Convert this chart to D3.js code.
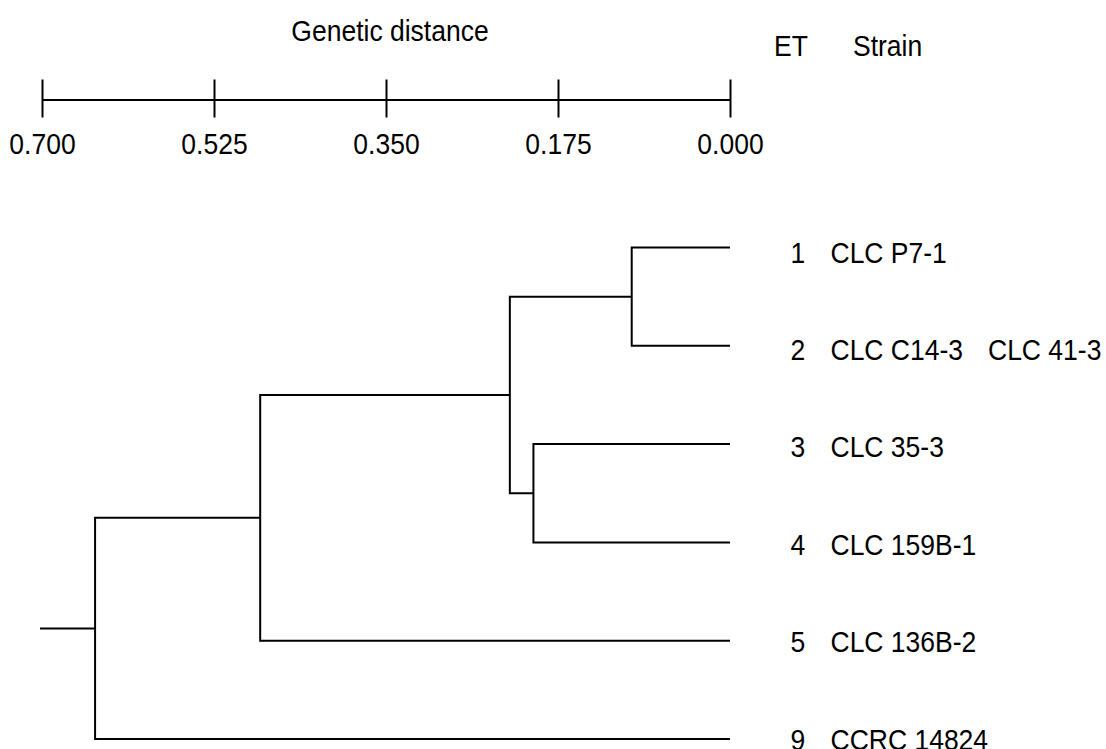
<!DOCTYPE html>
<html>
<head>
<meta charset="utf-8">
<script src="https://cdn.jsdelivr.net/npm/d3@7"></script>
<style>
  html, body { margin: 0; padding: 0; background: #fff; }
  svg { display: block; }
  text { font-family: "Liberation Sans", Arial, sans-serif; fill: #000; }
</style>
</head>
<body>
<svg id="chart" width="1106" height="749"></svg>
<script>
// ---- data ----
const axisTicks = [0.700, 0.525, 0.350, 0.175, 0.000];
const leafIds = ["1", "2", "3", "4", "5", "9"];
const leafET = ["1", "2", "3", "4", "5", "9"];
const leafStrain1 = ["CLC P7-1", "CLC C14-3", "CLC 35-3", "CLC 159B-1", "CLC 136B-2", "CCRC 14824"];
const leafStrain2 = ["", "CLC 41-3", "", "", "", ""];
const nodeIds = ["A", "B", "C", "D", "E"];
const nodeLeft = ["1", "3", "A", "C", "D"];
const nodeRight = ["2", "4", "B", "5", "9"];
const nodeHeights = [0.100, 0.200, 0.224, 0.478, 0.646];
const rootHeight = 0.700;
const titleText = "Genetic distance";
const headerET = "ET";
const headerStrain = "Strain";

// ---- layout ----
const svg = d3.select("#chart");
const x = d3.scaleLinear().domain([0.7, 0]).range([42, 730]);
const y = d3.scalePoint().domain(leafIds).range([247.5, 739]);
const yLabel = d3.scalePoint().domain(leafIds).range([262.5, 749.5]);
const axisY = 99.5;
const font = 26.5;
const stretch = 1.08;

function addText(sel, tx, ty, str, anchor) {
  return sel.append("text")
    .attr("transform", `translate(${tx},${ty}) scale(1,${stretch})`)
    .attr("text-anchor", anchor || "start")
    .attr("font-size", font).text(str);
}

// title & headers
addText(svg, 390, 40.5, titleText, "middle");
addText(svg, 774, 56, headerET);
addText(svg, 853, 56, headerStrain);

// axis
const axis = d3.axisBottom(x).tickValues(axisTicks)
  .tickFormat(d3.format(".3f")).tickSize(18).tickSizeOuter(0);
const gAxis = svg.append("g").attr("transform", `translate(0,${axisY})`).call(axis);
gAxis.select(".domain").attr("stroke", "#000").attr("stroke-width", 2);
gAxis.selectAll(".tick line").attr("y1", -20).attr("stroke", "#000").attr("stroke-width", 2);
gAxis.selectAll(".tick text").attr("y", 0).attr("dy", 0)
  .attr("transform", `translate(0,54.5) scale(1,${stretch})`)
  .attr("font-size", font).attr("font-family", "Liberation Sans, Arial, sans-serif").attr("fill", "#000");

// tree
const nodeH = {}, nodeY = {};
leafIds.forEach(id => { nodeH[id] = 0; nodeY[id] = y(id); });
nodeIds.forEach((id, i) => {
  nodeH[id] = nodeHeights[i];
  nodeY[id] = (nodeY[nodeLeft[i]] + nodeY[nodeRight[i]]) / 2;
});
const gTree = svg.append("g").attr("fill", "none").attr("stroke", "#000").attr("stroke-width", 2);
nodeIds.forEach((id, i) => {
  const nx = x(nodeH[id]);
  const yl = nodeY[nodeLeft[i]], yr = nodeY[nodeRight[i]];
  gTree.append("path").attr("d",
    `M${x(nodeH[nodeLeft[i]])},${yl}H${nx}V${yr}H${x(nodeH[nodeRight[i]])}`)
    .attr("stroke-linejoin", "miter");
});
// root stub
const topNode = nodeIds[nodeIds.length - 1];
gTree.append("line").attr("x1", x(rootHeight) - 2).attr("x2", x(nodeH[topNode]))
  .attr("y1", nodeY[topNode]).attr("y2", nodeY[topNode]);

// leaf labels
const gLab = svg.append("g");
leafIds.forEach((id, i) => {
  const by = yLabel(id);
  addText(gLab, 790.5, by, leafET[i]);
  addText(gLab, 830.5, by, leafStrain1[i]);
  if (leafStrain2[i]) addText(gLab, 988, by, leafStrain2[i]);
});
</script>
</body>
</html>
